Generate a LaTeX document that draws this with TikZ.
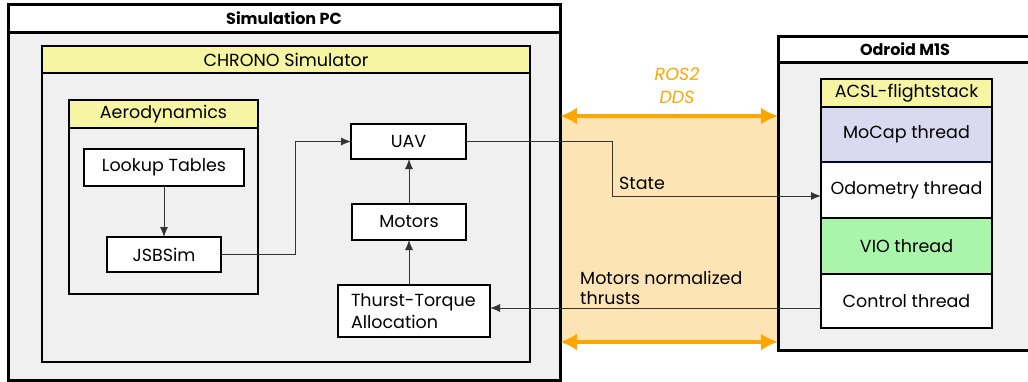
\documentclass[tikz,border=0pt]{standalone}
\usepackage{fontspec}
\setmainfont{Poppins}
\usetikzlibrary{arrows.meta}
\definecolor{bggray}{HTML}{F0F0F0}
\definecolor{ttlyellow}{HTML}{F5F5A3}
\definecolor{bandorange}{HTML}{FDE4B5}
\definecolor{arroworange}{HTML}{FFA500}
\definecolor{mocapblue}{HTML}{D9D9F0}
\definecolor{viogreen}{HTML}{A9F5A9}
\definecolor{wiregray}{HTML}{333333}
\definecolor{navyline}{HTML}{000080}
\begin{document}
\begin{tikzpicture}[x=1pt,y=-1pt,
  font=\fontsize{17.5}{21}\selectfont,
  base/.style={inner sep=0pt, outer sep=0pt, anchor=north west},
  outerbox/.style={base, draw, line width=3pt, fill=bggray},
  outertitle/.style={base, draw, line width=3pt, fill=white, font=\fontsize{16}{19}\selectfont\bfseries},
  midbox/.style={base, draw, line width=2pt, fill=bggray},
  midtitle/.style={base, draw, line width=2pt, fill=ttlyellow},
  blockbox/.style={base, draw, line width=1.2pt, fill=white},
  thread/.style={base, draw, line width=1.2pt},
  conn/.style={draw=wiregray, line width=0.8pt, -{Latex[length=10pt,width=8pt]}},
  link/.style={draw=arroworange, line width=4pt, {Latex[length=17pt,width=17pt]}-{Latex[length=17pt,width=17pt]}},
  lbl/.style={inner sep=0pt, anchor=west}
]
\clip (0,0) rectangle (1028,381);
\useasboundingbox (0,0) rectangle (1028,381);
\fill[white] (0,0) rectangle (1028,381);

% ROS2 band
\fill[bandorange] (560,115) rectangle (778,342);

% Simulation PC
\node[outerbox, minimum width=552pt, minimum height=376pt] (simpc) at (8,4) {};
\node[outertitle, minimum width=552pt, minimum height=28pt] (simpctitle) at (8,4) {Simulation PC};

% CHRONO
\node[midbox, minimum width=488pt, minimum height=316pt] (chrono) at (42,46) {};
\node[midtitle, minimum width=488pt, minimum height=27pt] (chronotitle) at (42,46) {CHRONO Simulator};

% Aerodynamics
\node[midbox, minimum width=189pt, minimum height=194pt] (aero) at (69,100) {};
\node[midtitle, minimum width=189pt, minimum height=28pt] (aerotitle) at (69,100) {Aerodynamics};

\node[blockbox, minimum width=160pt, minimum height=37pt] (lookup) at (84,149) {Lookup Tables};
\node[blockbox, minimum width=114pt, minimum height=35pt] (jsbsim) at (107,237) {JSBSim};
\node[blockbox, minimum width=115pt, minimum height=35pt] (uav) at (351,124) {UAV};
\node[blockbox, minimum width=114pt, minimum height=36pt] (motors) at (352,204) {Motors};
\node[blockbox, minimum width=152pt, minimum height=52pt, align=left, text width=126pt, inner xsep=13pt, font=\fontsize{17.5}{22}\selectfont] (thurst) at (338,285) {Thurst-Torque\\Allocation};

% Odroid
\node[outerbox, minimum width=254pt, minimum height=314pt] (odroid) at (778,36) {};
\node[outertitle, minimum width=254pt, minimum height=26pt] (odroidtitle) at (778,36) {Odroid M1S};

\node[thread, fill=mocapblue, minimum width=171pt, minimum height=55pt] (mocap) at (821,107) {MoCap thread};
\node[thread, fill=white, minimum width=171pt, minimum height=56pt] (odometry) at (821,162) {Odometry thread};
\node[thread, fill=viogreen, minimum width=171pt, minimum height=56pt] (vio) at (821,218) {VIO thread};
\node[thread, fill=white, minimum width=171pt, minimum height=54pt] (control) at (821,274) {Control thread};
\node[thread, fill=ttlyellow, minimum width=171pt, minimum height=28pt] (acsl) at (821,79) {ACSL-flightstack};
\draw[navyline, line width=0.8pt] (mocap.south west) -- (mocap.south east);
\draw[line width=1.5pt] (acsl.north west) rectangle (control.south east);

% connectors
\draw[conn] (lookup.south) -- (jsbsim.north);
\draw[conn] (jsbsim.east) -- ++(74,0) |- (uav.west);
\draw[conn] (motors.north) -- (motors.north |- uav.south);
\draw[conn] (motors.south |- thurst.north) -- (motors.south);
\coordinate (statebend) at (612,142);
\draw[conn] (uav.east) -- (uav.east -| statebend) |- ([yshift=-6pt]odometry.west);
\draw[conn] ([yshift=-7pt]control.west) -- ([yshift=-7pt]control.west -| thurst.east);

% ROS2 link arrows
\coordinate (linktop) at (0,116);
\coordinate (linkbot) at (0,342);
\draw[link] (simpc.east |- linktop) -- (odroid.west |- linktop);
\draw[link] (simpc.east |- linkbot) -- (odroid.west |- linkbot);

% labels
\node[inner sep=0pt, align=center, text=arroworange, font=\fontsize{17.5}{23}\selectfont\itshape] (ros) at (677,86) {ROS2\\DDS};
\node[lbl] (statelbl) at (619,183) {State};
\node[lbl, align=left, font=\fontsize{17.5}{20}\selectfont] (motlbl) at (580,288) {Motors normalized\\thrusts};
\end{tikzpicture}
\end{document}
